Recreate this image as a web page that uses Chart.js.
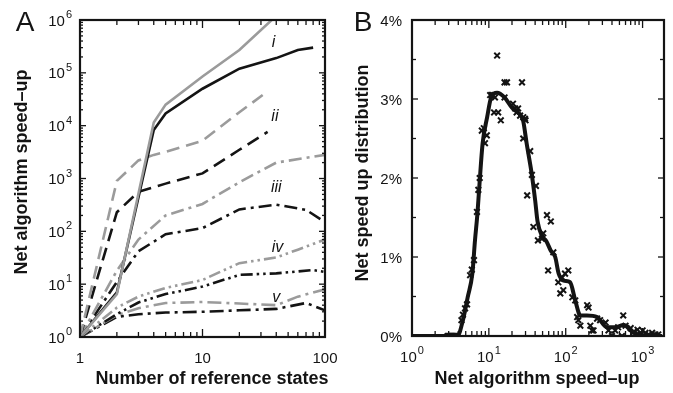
<!DOCTYPE html>
<html>
<head>
<meta charset="utf-8">
<script src="https://cdn.jsdelivr.net/npm/chart.js@4"></script>
<style>
  body { margin: 0; background: #fff; }
  #wrapA { position: absolute; left: 0; top: 0; width: 340px; height: 393px; }
  #wrapB { position: absolute; left: 340px; top: 0; width: 333px; height: 393px; }
</style>
</head>
<body>
<div id="wrapA"><canvas id="chartA"></canvas></div>
<div id="wrapB"><canvas id="chartB"></canvas></div>
<script>
// ---- panel A: speed-up vs number of reference states ----
// tick labels: [base, exponent]
const aXTicks = [1, 10, 100];
const aXLabels = [["1", ""], ["10", ""], ["100", ""]];
const aYTicks = [1, 10, 100, 1e3, 1e4, 1e5, 1e6];
const aYLabels = [["10", "0"], ["10", "1"], ["10", "2"], ["10", "3"], ["10", "4"], ["10", "5"], ["10", "6"]];

const grayIX = [1, 2, 4, 5, 10, 20, 40];
const grayIY = [1, 6.5, 11500, 25000, 85000, 270000, 1200000];
const blackIX = [1, 2, 4, 5, 10, 20, 40, 60, 80];
const blackIY = [1, 7, 8300, 17000, 50000, 120000, 190000, 270000, 300000];
const grayIIX = [1, 2, 3, 4, 5, 10, 20, 31];
const grayIIY = [1, 900, 2200, 2800, 3200, 5200, 18000, 38000];
const blackIIX = [1, 2, 3, 5, 10, 20, 34];
const blackIIY = [1, 230, 560, 800, 1250, 3500, 7600];
const grayIIIX = [1, 2, 3, 5, 10, 20, 40, 100];
const grayIIIY = [1, 18, 70, 200, 330, 850, 2000, 2800];
const blackIIIX = [1, 2, 3, 5, 10, 20, 40, 70, 100];
const blackIIIY = [1, 11, 42, 88, 115, 260, 320, 255, 150];
const grayIVX = [1, 2, 3, 5, 10, 20, 40, 60, 100];
const grayIVY = [1, 3.6, 5.8, 8.5, 12, 25, 32, 45, 70];
const blackIVX = [1, 2, 3, 5, 10, 20, 40, 80, 100];
const blackIVY = [1, 2.7, 4.5, 6.5, 9, 15, 16, 18.5, 17];
const grayVX = [1, 2, 3, 5, 10, 20, 40, 60, 100];
const grayVY = [1, 2.6, 3.5, 4.4, 4.6, 4.3, 4, 5.8, 8];
const blackVX = [1, 2, 3, 5, 10, 20, 40, 70, 100];
const blackVY = [1, 2.4, 2.7, 2.9, 3, 3.2, 3.4, 4.4, 3.2];

const noteText = ["i", "ii", "iii", "iv", "v"];
const noteX = [38, 39, 40, 41, 40];
const noteY = [370000, 14800, 660, 50, 5.7];

// ---- panel B: distribution of speed-up ----
const bXTicks = [1, 10, 100, 1000];
const bXLabels = [["10", "0"], ["10", "1"], ["10", "2"], ["10", "3"]];
const bYTicks = [0, 1, 2, 3, 4];
const bYLabels = [["0%", ""], ["1%", ""], ["2%", ""], ["3%", ""], ["4%", ""]];

const fitX = [1, 2, 3, 3.9, 4.6, 5.3, 6.1, 6.6, 7.1, 7.5, 8.3, 9.5, 10.7, 12.8, 16, 20, 26, 28,
  31, 36, 40, 43, 49, 56, 64, 73, 81, 94, 114, 133, 155, 189, 256, 345, 440, 570, 735, 940, 1300, 1800];
const fitY = [0, 0, 0, 0, 0.2, 0.49, 0.79, 1.21, 1.55, 1.88, 2.44, 2.77, 3.02, 3.08, 3.02, 2.89, 2.79, 2.72,
  2.44, 2.06, 1.72, 1.45, 1.27, 1.2, 1.08, 1.0, 0.79, 0.7, 0.68, 0.45, 0.26, 0.26, 0.24, 0.11, 0.11, 0.14, 0.05, 0.01, 0, 0];

const obsX = [2.9, 3.0, 3.1, 3.2, 3.3, 3.4, 3.5, 3.6, 3.7, 3.85,
  4.4, 4.6, 4.9, 5.2, 5.7, 6.0, 6.4, 7.0, 7.3, 7.6, 8.1, 8.6, 8.9, 9.4,
  10.4, 10.9, 11.3, 12, 11.7, 13.2, 14.3, 12.8, 16, 17.2, 27, 16, 20.6, 22, 24, 23, 25.5, 28, 30, 29.5,
  28, 34.5, 36.3, 41, 31.5, 38, 43.5, 49, 51, 57, 64, 59, 69, 80, 85, 93, 90, 98, 108, 122, 133,
  141, 146, 155, 190, 198, 209, 220, 230, 256, 280, 330, 360, 400, 440, 480, 540, 560, 600,
  700, 760, 860, 940, 1000, 1090, 1200, 1330, 1470, 1600];
const obsY = [0, 0, 0, 0, 0, 0, 0, 0, 0, 0,
  0.2, 0.27, 0.35, 0.4, 0.77, 0.84, 0.96, 1.57, 1.85, 2.0, 2.6, 2.63, 2.44, 2.54,
  3.05, 3.05, 3.05, 3.02, 2.83, 2.83, 2.73, 3.55, 3.21, 3.21, 3.21, 3.02, 2.94, 2.88, 2.88, 2.83, 2.79, 2.77, 2.73, 2.75,
  2.5, 2.34, 2.04, 1.9, 1.78, 1.38, 1.21, 1.23, 1.3, 1.53, 1.45, 0.83, 1.06, 0.68, 0.54, 0.58, 0.74, 0.79, 0.83, 0.49, 0.45,
  0.24, 0.2, 0.13, 0.39, 0.36, 0.13, 0.07, 0.07, 0.22, 0.2, 0.17, 0.07, 0, 0.07, 0.11, 0, 0.26, 0.13,
  0.1, 0.05, 0.08, 0.02, 0.07, 0.04, 0.02, 0.04, 0.02, 0.02];

const FONT = '"Liberation Sans", Arial, Helvetica, sans-serif';
const INK = "#141414";
const GRAY = "#9b9b9b";

const pts = (xs, ys) => xs.map((x, i) => ({ x: x, y: ys[i] }));

function logMarks(min, max) {
  const out = [];
  for (let e = Math.floor(Math.log10(min)); e <= Math.ceil(Math.log10(max)); e++) {
    for (let k = 1; k < 10; k++) {
      const v = k * Math.pow(10, e);
      if (v >= min * 0.999 && v <= max * 1.001) out.push({ v: v, major: k === 1 });
    }
  }
  return out;
}

// "10" with a raised exponent; align is 'center' or 'right'
function powLabel(ctx, lab, x, y, align) {
  ctx.font = "15px " + FONT;
  const wb = ctx.measureText(lab[0]).width;
  ctx.font = "11px " + FONT;
  const we = lab[1] ? ctx.measureText(lab[1]).width + 1 : 0;
  const w = wb + we;
  const x0 = align === "right" ? x - w : x - w / 2;
  ctx.textAlign = "left";
  ctx.textBaseline = "alphabetic";
  ctx.font = "15px " + FONT;
  ctx.fillText(lab[0], x0, y + 5.5);
  if (lab[1]) {
    ctx.font = "11px " + FONT;
    ctx.fillText(lab[1], x0 + wb + 1, y - 2);
  }
}

// frame, inward ticks, tick labels, titles and panel letter
function framePlugin(cfg) {
  return {
    id: "frame",
    afterDraw(chart) {
      const { ctx, chartArea: a } = chart;
      const sx = chart.scales.x, sy = chart.scales.y;
      ctx.save();
      ctx.strokeStyle = INK;
      ctx.lineWidth = 1.3;
      const seg = (x1, y1, x2, y2) => { ctx.beginPath(); ctx.moveTo(x1, y1); ctx.lineTo(x2, y2); ctx.stroke(); };
      logMarks(sx.min, sx.max).forEach(t => {
        const px = sx.getPixelForValue(t.v);
        const len = t.major ? cfg.xMajor : cfg.xMinor;
        seg(px, a.bottom, px, a.bottom - len);
        seg(px, a.top, px, a.top + len);
      });
      const ym = sy.type === "logarithmic" ? logMarks(sy.min, sy.max)
        : cfg.yMarks.map(v => ({ v: v, major: Number.isInteger(v) }));
      ym.forEach(t => {
        const py = sy.getPixelForValue(t.v);
        const len = t.major ? cfg.yMajor : cfg.yMinor;
        seg(a.left, py, a.left + len, py);
        seg(a.right, py, a.right - len, py);
      });
      ctx.lineWidth = 2.2;
      ctx.strokeRect(a.left, a.top, a.right - a.left, a.bottom - a.top);

      ctx.fillStyle = INK;
      cfg.xTicks.forEach((v, i) => powLabel(ctx, cfg.xLabels[i], sx.getPixelForValue(v), cfg.xLabelY, "center"));
      cfg.yTicks.forEach((v, i) => powLabel(ctx, cfg.yLabels[i], a.left - cfg.yLabelGap, sy.getPixelForValue(v), "right"));

      ctx.textAlign = "center";
      ctx.textBaseline = "middle";
      ctx.font = "bold 18px " + FONT;
      ctx.fillText(cfg.xTitle, cfg.xTitlePos[0], cfg.xTitlePos[1]);
      ctx.save();
      ctx.translate(cfg.yTitlePos[0], cfg.yTitlePos[1]);
      ctx.rotate(-Math.PI / 2);
      ctx.fillText(cfg.yTitle, 0, 0);
      ctx.restore();
      ctx.font = "28px " + FONT;
      ctx.fillText(cfg.letter, cfg.letterPos[0], cfg.letterPos[1]);
      if (cfg.notes) {
        ctx.font = "italic 16px " + FONT;
        cfg.notes.forEach(n => ctx.fillText(n.t, sx.getPixelForValue(n.x), sy.getPixelForValue(n.y)));
      }
      ctx.restore();
    }
  };
}

function line(xs, ys, color, dash) {
  return {
    data: pts(xs, ys), borderColor: color, borderWidth: 2.6, borderDash: dash,
    pointRadius: 0, tension: 0, fill: false, borderCapStyle: "butt"
  };
}

const hiddenTicks = { display: false };

new Chart(document.getElementById("chartA"), {
  type: "line",
  data: {
    datasets: [
      line(grayIX, grayIY, GRAY, []),
      line(blackIX, blackIY, INK, []),
      line(grayIIX, grayIIY, GRAY, [13, 7]),
      line(blackIIX, blackIIY, INK, [13, 7]),
      line(grayIIIX, grayIIIY, GRAY, [13, 5, 3, 5]),
      line(blackIIIX, blackIIIY, INK, [13, 5, 3, 5]),
      line(grayIVX, grayIVY, GRAY, [12, 4, 2.5, 4, 2.5, 4]),
      line(blackIVX, blackIVY, INK, [12, 4, 2.5, 4, 2.5, 4]),
      line(grayVX, grayVY, GRAY, [14, 5, 3, 5]),
      line(blackVX, blackVY, INK, [14, 5, 3, 5])
    ]
  },
  options: {
    responsive: true, maintainAspectRatio: false, animation: false,
    layout: { padding: { top: 20, right: 15, left: 0, bottom: 0 } },
    plugins: { legend: { display: false }, tooltip: { enabled: false } },
    scales: {
      x: {
        type: "logarithmic", min: 1, max: 100,
        afterFit: s => { s.height = 56; },
        ticks: hiddenTicks, grid: { display: false }, border: { display: false }
      },
      y: {
        type: "logarithmic", min: 1, max: 1e6,
        afterFit: s => { s.width = 80; },
        ticks: hiddenTicks, grid: { display: false }, border: { display: false }
      }
    }
  },
  plugins: [framePlugin({
    xMajor: 8, xMinor: 5, yMajor: 6, yMinor: 3,
    xTicks: aXTicks, xLabels: aXLabels, xLabelY: 357,
    yTicks: aYTicks, yLabels: aYLabels, yLabelGap: 8,
    xTitle: "Number of reference states", xTitlePos: [212, 379],
    yTitle: "Net algorithm speed\u2013up", yTitlePos: [22, 172],
    letter: "A", letterPos: [25, 23],
    notes: noteText.map((t, i) => ({ t: t, x: noteX[i], y: noteY[i] }))
  })]
});

new Chart(document.getElementById("chartB"), {
  type: "line",
  data: {
    datasets: [
      {
        data: pts(fitX, fitY), borderColor: INK, borderWidth: 4, pointRadius: 0,
        cubicInterpolationMode: "monotone", fill: false, order: 1
      },
      {
        type: "scatter", data: pts(obsX, obsY), showLine: false,
        pointStyle: "crossRot", pointRadius: 4, borderColor: INK, borderWidth: 2,
        backgroundColor: INK, order: 0
      }
    ]
  },
  options: {
    responsive: true, maintainAspectRatio: false, animation: false,
    layout: { padding: { top: 20, right: 9, left: 0, bottom: 0 } },
    plugins: { legend: { display: false }, tooltip: { enabled: false } },
    scales: {
      x: {
        type: "logarithmic", min: 1, max: 1900,
        afterFit: s => { s.height = 57; },
        ticks: hiddenTicks, grid: { display: false }, border: { display: false }
      },
      y: {
        type: "linear", min: 0, max: 4,
        afterFit: s => { s.width = 72; },
        ticks: hiddenTicks, grid: { display: false }, border: { display: false }
      }
    }
  },
  plugins: [framePlugin({
    xMajor: 8, xMinor: 5, yMajor: 6, yMinor: 4,
    yMarks: [0, 0.5, 1, 1.5, 2, 2.5, 3, 3.5, 4],
    xTicks: bXTicks, xLabels: bXLabels, xLabelY: 356,
    yTicks: bYTicks, yLabels: bYLabels, yLabelGap: 10,
    xTitle: "Net algorithm speed\u2013up", xTitlePos: [197, 379],
    yTitle: "Net speed up distribution", yTitlePos: [23, 173],
    letter: "B", letterPos: [23, 23]
  })]
});
</script>
</body>
</html>
